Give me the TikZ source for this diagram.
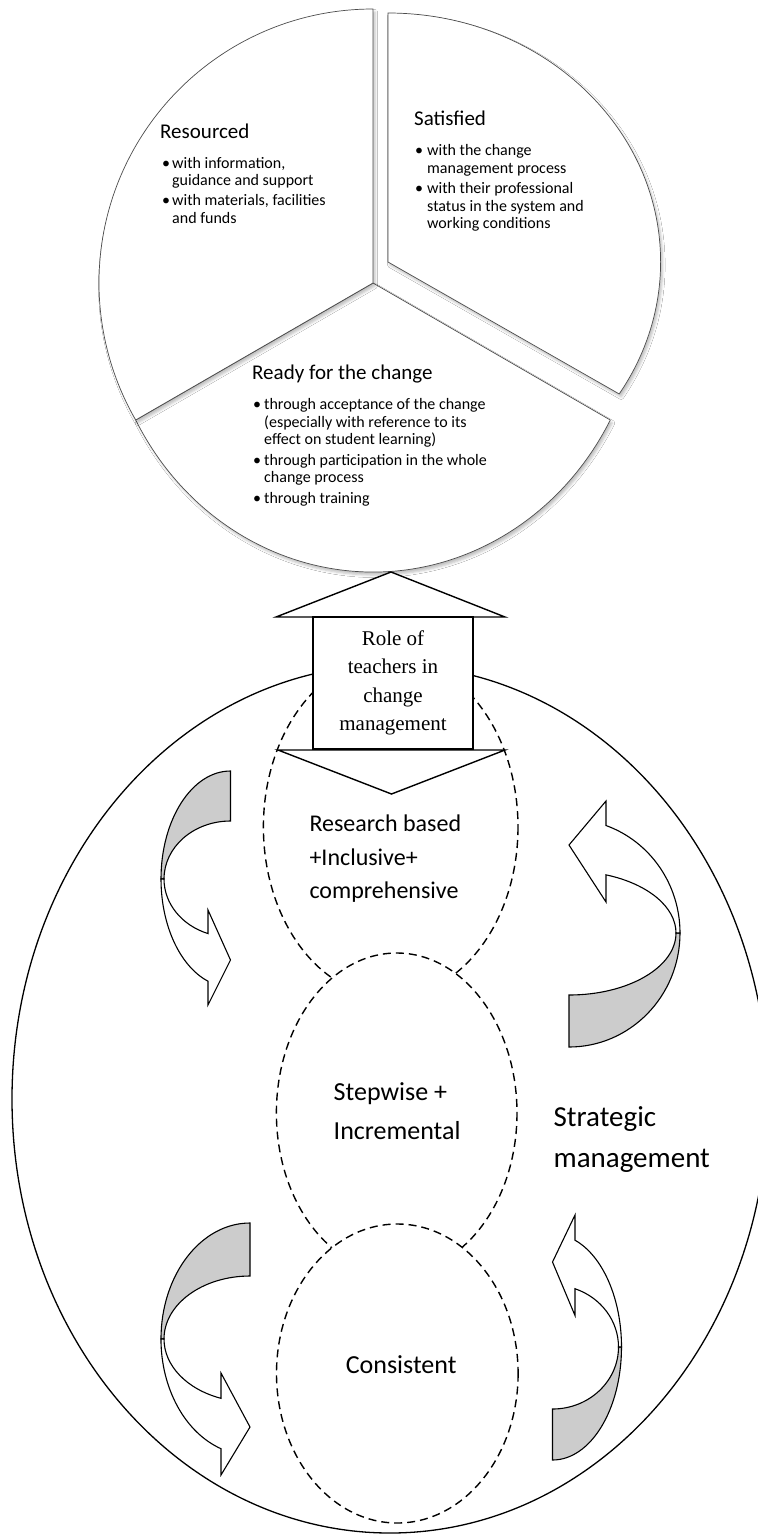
\documentclass[tikz,border=0pt]{standalone}
\usepackage{fontspec}
\setmainfont{Carlito}
\newfontfamily\serifroman{Liberation Serif}
\usetikzlibrary{shadows.blur}
\definecolor{bandgrey}{RGB}{204,204,204}

\begin{document}
\begin{tikzpicture}[x=1pt, y=-1pt,
  piece/.style={draw=black!70, line width=0.7pt, fill=white,
    blur shadow={shadow xshift=2pt, shadow yshift=-3pt, shadow blur radius=2.5pt, shadow opacity=25}},
  pietitle/.style={anchor=mid west, inner sep=0pt, font=\fontsize{21}{25}\selectfont},
  pieline/.style={anchor=mid west, inner sep=0pt, font=\fontsize{16}{18}\selectfont},
  bulletmark/.style={anchor=mid west, inner sep=0pt, font=\fontsize{16}{18}\selectfont},
  outerline/.style={draw=black, line width=1.3pt},
  dashring/.style={draw=black, line width=1.4pt, dash pattern=on 8pt off 5pt, fill=white},
  rolepart/.style={draw=black, line width=1.4pt, fill=white, line join=miter},
  bandfront/.style={draw=black, line width=1.1pt, fill=white},
  bandback/.style={draw=black, line width=1.1pt, fill=bandgrey},
  stagetext/.style={anchor=west, inner sep=0pt, align=left},
]
\useasboundingbox (0,0) rectangle (758,1535);
\fill[white] (0,0) rectangle (758,1535);

% ---- exploded pie: Ready, Resourced, Satisfied ----
\coordinate (apex) at (373,283);
\coordinate (satapex) at (388,262);
\path[piece] (apex) -- +(151.7:269.5 and 289)
  arc[start angle=151.7, end angle=28.3, x radius=269.5, y radius=289] -- cycle;
\path[piece] (apex) -- +(0,-274)
  arc[start angle=270, end angle=150, radius=274] -- cycle;
\path[piece] (satapex) -- +(0,-249)
  arc[start angle=270, end angle=392, x radius=272.6, y radius=249] -- cycle;

\begin{scope}[shift={(0,4)}]
\node[pietitle] (restitle) at (160,131.7) {Resourced};
\node[bulletmark] (resb1) at (162,161.7) {•};
\node[pieline] (res1a) at (172,161.7) {with information,};
\node[pieline] (res1b) at (172,179.3) {guidance and support};
\node[bulletmark] (resb2) at (162,199) {•};
\node[pieline] (res2a) at (172,199) {with materials, facilities};
\node[pieline] (res2b) at (172,216.7) {and funds};

\node[pietitle] (sattitle) at (414,119.3) {Satisfied};
\node[bulletmark] (satb1) at (415,149) {•};
\node[pieline] (sat1a) at (427,149) {with the change};
\node[pieline] (sat1b) at (427,166.7) {management process};
\node[bulletmark] (satb2) at (415,187.3) {•};
\node[pieline] (sat2a) at (427,187.3) {with their professional};
\node[pieline] (sat2b) at (427,205) {status in the system and};
\node[pieline] (sat2c) at (427,221.7) {working conditions};

\node[pietitle] (readytitle) at (252,373) {Ready for the change};
\node[bulletmark] (rdyb1) at (253,403.3) {•};
\node[pieline] (rdy1a) at (264,403.3) {through acceptance of the change};
\node[pieline] (rdy1b) at (264,421) {(especially with reference to its};
\node[pieline] (rdy1c) at (264,438.3) {effect on student learning)};
\node[bulletmark] (rdyb2) at (253,459) {•};
\node[pieline] (rdy2a) at (264,459) {through participation in the whole};
\node[pieline] (rdy2b) at (264,476) {change process};
\node[bulletmark] (rdyb3) at (253,496.7) {•};
\node[pieline] (rdy3a) at (264,496.7) {through training};
\end{scope}

% ---- strategic management frame ----
\draw[outerline] (390,1099) ellipse[x radius=378, y radius=434];
\path[dashring] (390.7,827) ellipse[x radius=127.3, y radius=170];

% role box with its two arrow heads
\path[rolepart] (276,617) -- (391,572) -- (505,617) -- cycle;
\path[rolepart] (278,750) -- (505,750) -- (391.5,794) -- cycle;
\node[rolepart, minimum width=160, minimum height=132, inner sep=0pt, align=center,
  font=\serifroman\fontsize{21}{28.5}\selectfont] (rolebox) at (393,683)
  {Role of\\teachers in\\change\\management};

\path[dashring] (396.7,1113) ellipse[x radius=120.3, y radius=160];
\path[dashring] (397.3,1373.5) ellipse[x radius=120.8, y radius=149.5];

% ---- curved arrows ----
% upper left, pointing right
\path[bandback] (230.5,771) arc[start angle=270, end angle=180, x radius=69.5, y radius=108]
  -- (164,879) arc[start angle=180, end angle=270, x radius=66.5, y radius=58] -- cycle;
\path[bandfront] (164,879) arc[start angle=180, end angle=109.8, x radius=66.5, y radius=58]
  -- (208,910) -- (230.5,960) -- (208,1005) -- (208,981.2)
  arc[start angle=108.9, end angle=180, x radius=69.5, y radius=108] -- cycle;
% lower left, pointing right
\path[bandback] (250,1223) arc[start angle=270, end angle=180, x radius=89, y radius=116]
  -- (164,1339) arc[start angle=180, end angle=270, x radius=86, y radius=63] -- cycle;
\path[bandfront] (164,1339) arc[start angle=180, end angle=109.7, x radius=86, y radius=63]
  -- (221,1373) -- (250,1427) -- (221,1475) -- (221,1448.7)
  arc[start angle=109.0, end angle=180, x radius=89, y radius=116] -- cycle;
% upper right, pointing left
\path[bandback] (569,1047) arc[start angle=90, end angle=0, x radius=111, y radius=114]
  -- (676,933) arc[start angle=0, end angle=90, x radius=107, y radius=62] -- cycle;
\path[bandfront] (676,933) arc[start angle=360, end angle=290.2, x radius=107, y radius=62]
  -- (606,902) -- (569,845) -- (606,801) -- (606,825.5)
  arc[start angle=289.47, end angle=360, x radius=111, y radius=114] -- cycle;
% lower right, pointing left
\path[bandback] (552.5,1460) arc[start angle=90, end angle=0, x radius=69, y radius=113]
  -- (618.5,1347) arc[start angle=0, end angle=90, x radius=66, y radius=62] -- cycle;
\path[bandfront] (618.5,1347) arc[start angle=360, end angle=289.93, x radius=66, y radius=62]
  -- (575,1315.5) -- (552.5,1262) -- (575,1215) -- (575,1240.2)
  arc[start angle=289.03, end angle=360, x radius=69, y radius=113] -- cycle;

% ---- labels ----
\node[stagetext, font=\fontsize{24}{33.5}\selectfont] (research) at (309.3,858.8)
  {Research based\\+Inclusive+\\comprehensive};
\node[stagetext, font=\fontsize{26}{39}\selectfont] (stepwise) at (333.5,1111.4)
  {Stepwise +\\Incremental};
\node[stagetext, font=\fontsize{26}{39}\selectfont] (consistent) at (345.6,1364.5)
  {Consistent};
\node[stagetext, font=\fontsize{29}{41.5}\selectfont] (strategic) at (553.4,1139.7)
  {Strategic\\management};
\end{tikzpicture}
\end{document}
